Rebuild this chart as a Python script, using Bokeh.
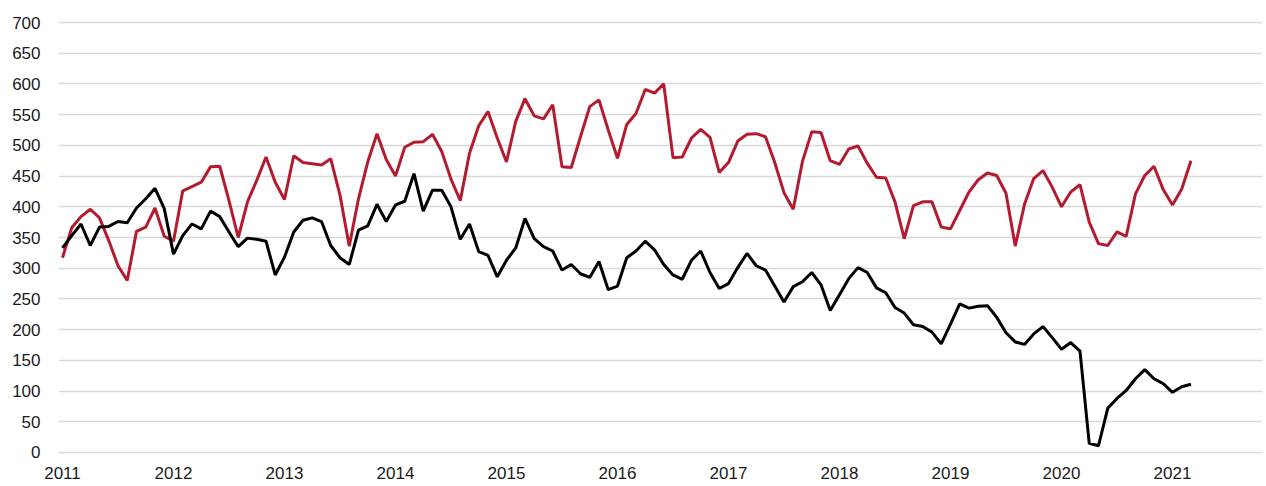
from bokeh.plotting import figure
from bokeh.models import Range1d, FixedTicker
from bokeh.embed import file_html
from bokeh.resources import INLINE

# Monthly data, Jan 2011 .. Mar 2021
start_year = 2011
series_red = [317, 366, 384, 396, 382, 345, 304, 280, 360, 367, 398, 352,
              344, 426, 433, 440, 465, 466, 410, 350, 408, 443, 481, 440,
              412, 483, 472, 470, 468, 478, 419, 336, 413, 473, 519, 477,
              450, 497, 505, 506, 518, 490, 445, 410, 487, 532, 555, 512,
              473, 539, 576, 548, 543, 566, 465, 464, 514, 563, 574, 525,
              479, 534, 552, 591, 585, 600, 480, 481, 512, 526, 513, 456,
              472, 507, 518, 519, 514, 472, 423, 396, 474, 522, 521, 475,
              469, 494, 499, 471, 448, 447, 408, 348, 402, 408, 408, 367,
              364, 394, 424, 444, 455, 451, 422, 336, 404, 446, 459, 432,
              400, 424, 436, 375, 340, 337, 359, 352, 421, 451, 466, 428,
              403, 429, 475]
series_black = [333, 353, 372, 337, 367, 368, 376, 374, 398, 413, 430, 397,
                323, 353, 372, 364, 393, 384, 359, 335, 349, 347, 344, 289,
                318, 359, 378, 382, 376, 337, 317, 306, 362, 369, 404, 376,
                403, 409, 454, 393, 427, 427, 400, 347, 372, 327, 321, 286,
                313, 333, 381, 348, 335, 328, 297, 306, 291, 285, 311, 265,
                271, 317, 328, 344, 330, 306, 289, 282, 313, 328, 293, 267,
                275, 301, 324, 304, 297, 271, 245, 270, 278, 293, 273, 231,
                257, 283, 301, 293, 268, 260, 236, 227, 208, 205, 196, 177,
                209, 242, 235, 238, 239, 220, 195, 180, 176, 193, 205, 187,
                168, 179, 165, 15, 11, 72, 88, 101, 120, 135, 120, 112,
                98, 107, 111]
year_ticks = list(range(2011, 2022))
year_labels = [str(y) for y in year_ticks]
y_ticks = list(range(0, 701, 50))

x_red = [start_year + i / 12 for i in range(len(series_red))]
x_black = [start_year + i / 12 for i in range(len(series_black))]

FONT = "Liberation Sans"

p = figure(width=1266, height=486, output_backend="svg", toolbar_location=None,
           x_range=Range1d(2010.964, 2021.811),
           y_range=Range1d(-9.77, 703.26))
p.min_border_left = 58
p.min_border_right = 4
p.min_border_top = 20
p.min_border_bottom = 28
p.outline_line_color = None
p.background_fill_color = "white"
p.border_fill_color = "white"

p.line(x_red, series_red, line_color="#B31B2F", line_width=3)
p.line(x_black, series_black, line_color="#000000", line_width=3)

p.xgrid.grid_line_color = None
p.ygrid.grid_line_color = "#d9d9d9"
p.ygrid.grid_line_width = 1.5
p.ygrid.ticker = FixedTicker(ticks=y_ticks)

yax = p.yaxis[0]
yax.ticker = FixedTicker(ticks=y_ticks)
yax.axis_line_color = None
yax.major_tick_line_color = None
yax.minor_tick_line_color = None
yax.major_tick_out = 0
yax.major_tick_in = 0
yax.major_label_standoff = 18
yax.major_label_text_font = FONT
yax.major_label_text_font_size = "17px"
yax.major_label_text_color = "#1a1a1a"

xax = p.xaxis[0]
xax.ticker = FixedTicker(ticks=year_ticks)
xax.major_label_overrides = {t: l for t, l in zip(year_ticks, year_labels)}
xax.axis_line_color = None
xax.major_tick_line_color = None
xax.minor_tick_line_color = None
xax.major_tick_out = 0
xax.major_tick_in = 0
xax.major_label_standoff = 8
xax.major_label_text_font = FONT
xax.major_label_text_font_size = "17px"
xax.major_label_text_color = "#1a1a1a"

open("out.html", "w").write(file_html(p, INLINE))
